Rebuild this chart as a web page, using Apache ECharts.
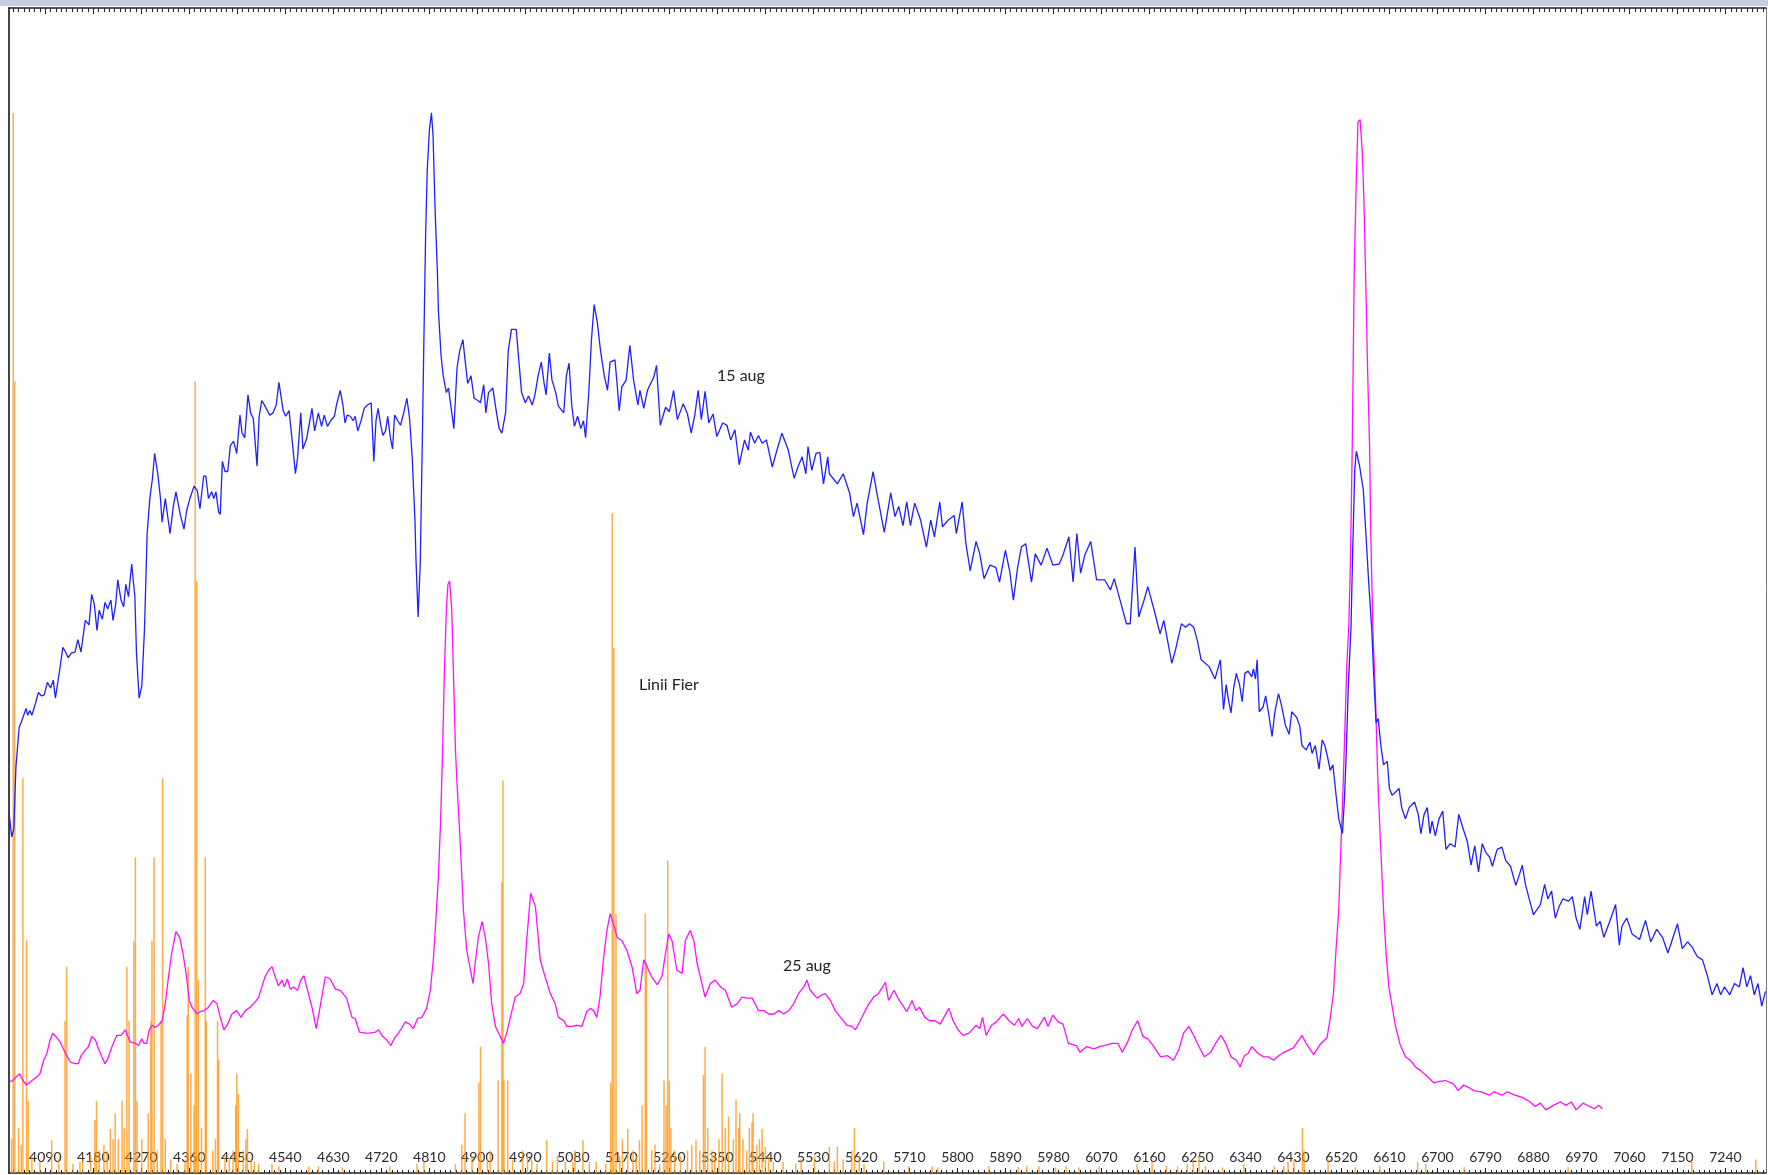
<!DOCTYPE html>
<html>
<head>
<meta charset="utf-8">
<script src="https://cdn.jsdelivr.net/npm/echarts/dist/echarts.min.js"></script>
<style>
html,body{margin:0;padding:0;background:#fff;}
#chart{width:1768px;height:1175px;}
</style>
</head>
<body>
<div id="chart"></div>
<script>
// X range (wavelength, Angstrom) and Y range (relative intensity)
const X_MIN = 4022, X_MAX = 7316, Y_MAX = 1033;

// Axis tick labels
const tickLabels = [4090,4180,4270,4360,4450,4540,4630,4720,4810,4900,4990,5080,5170,5260,5350,5440,5530,5620,5710,5800,5890,5980,6070,6160,6250,6340,6430,6520,6610,6700,6790,6880,6970,7060,7150,7240];

// 15 aug spectrum [wavelength, intensity]
const aug15 = [
[4022,320],[4027,298],[4031,305],[4035,360],[4041,395],[4046,401],[4054,412],[4057,406],[4061,410],[4065,406],[4072,417],[4077,426],[4083,423],[4088,424],[4094,435],[4100,430],[4105,437],[4109,421],[4117,446],[4123,466],[4128,462],[4133,457],[4139,461],[4146,462],[4151,473],[4157,462],[4165,490],[4172,486],[4177,513],[4182,504],[4187,481],[4191,499],[4197,491],[4202,506],[4207,500],[4213,508],[4217,490],[4222,504],[4226,526],[4232,508],[4237,502],[4241,522],[4246,511],[4252,540],[4258,511],[4261,461],[4266,421],[4271,432],[4276,482],[4281,567],[4286,598],[4291,616],[4295,638],[4301,620],[4306,598],[4309,577],[4315,598],[4321,577],[4324,567],[4330,591],[4335,604],[4343,584],[4350,571],[4355,587],[4361,598],[4369,609],[4375,605],[4380,589],[4387,618],[4391,618],[4396,598],[4402,604],[4406,598],[4410,604],[4415,586],[4418,584],[4422,631],[4427,622],[4432,622],[4437,645],[4443,649],[4449,638],[4455,672],[4459,656],[4464,652],[4470,690],[4475,674],[4480,669],[4487,627],[4491,671],[4496,685],[4502,680],[4511,672],[4517,674],[4523,681],[4528,701],[4536,676],[4541,671],[4547,676],[4553,649],[4559,620],[4563,634],[4569,674],[4573,642],[4580,651],[4590,678],[4595,658],[4599,667],[4602,674],[4608,662],[4613,672],[4619,662],[4625,667],[4632,671],[4636,681],[4643,694],[4648,681],[4652,665],[4656,672],[4662,671],[4667,667],[4671,671],[4676,658],[4682,667],[4688,678],[4694,681],[4701,683],[4706,631],[4710,667],[4714,678],[4719,663],[4723,654],[4728,658],[4732,671],[4737,652],[4741,642],[4745,672],[4751,667],[4756,663],[4762,674],[4768,687],[4773,669],[4778,634],[4783,580],[4785,544],[4789,493],[4793,540],[4797,652],[4800,743],[4803,830],[4806,888],[4810,924],[4814,940],[4817,920],[4821,852],[4825,801],[4827,765],[4832,725],[4836,707],[4842,692],[4846,696],[4851,678],[4856,660],[4862,714],[4867,729],[4873,739],[4877,721],[4882,700],[4888,707],[4894,687],[4901,685],[4906,683],[4912,699],[4916,674],[4921,692],[4929,696],[4936,674],[4941,660],[4946,656],[4953,674],[4958,729],[4964,748],[4973,748],[4977,725],[4983,692],[4990,683],[4996,689],[5003,681],[5008,690],[5014,707],[5020,719],[5025,701],[5029,690],[5035,727],[5040,703],[5047,692],[5052,680],[5062,674],[5067,707],[5072,718],[5077,681],[5082,662],[5088,671],[5094,660],[5099,667],[5103,652],[5109,692],[5114,739],[5119,770],[5125,754],[5131,729],[5138,707],[5144,694],[5149,719],[5158,721],[5162,700],[5166,676],
[5171,697],[5179,703],[5186,734],[5193,703],[5201,681],[5205,694],[5212,678],[5219,694],[5231,706],[5236,716],[5243,663],[5253,679],[5260,675],[5268,694],[5275,668],[5286,682],[5294,673],[5301,656],[5308,673],[5314,694],[5320,668],[5327,693],[5334,665],[5342,673],[5349,653],[5360,665],[5368,663],[5375,650],[5383,659],[5391,628],[5401,650],[5408,641],[5412,657],[5420,647],[5427,654],[5434,647],[5442,650],[5453,626],[5460,638],[5471,656],[5483,641],[5494,616],[5501,626],[5509,635],[5516,620],[5520,644],[5527,623],[5535,638],[5542,639],[5549,611],[5557,635],[5560,620],[5575,611],[5586,620],[5598,603],[5605,582],[5612,594],[5624,566],[5631,594],[5642,622],[5649,603],[5663,568],[5675,603],[5683,582],[5690,591],[5698,574],[5705,595],[5712,574],[5720,594],[5731,579],[5742,555],[5750,579],[5757,564],[5767,595],[5772,573],[5783,579],[5794,583],[5798,567],[5809,595],[5816,558],[5824,534],[5835,560],[5842,549],[5850,527],[5861,539],[5872,537],[5879,524],[5890,552],[5898,534],[5905,508],[5913,537],[5920,555],[5928,558],[5939,524],[5946,549],[5957,539],[5968,554],[5979,539],[5991,540],[5998,548],[6009,564],[6017,524],[6024,567],[6031,532],[6039,548],[6050,560],[6061,526],[6076,526],[6087,517],[6094,527],[6105,508],[6117,487],[6124,487],[6133,555],[6140,493],[6150,508],[6157,520],[6169,499],[6180,478],[6187,490],[6202,452],[6209,464],[6220,487],[6228,484],[6235,487],[6243,484],[6250,472],[6257,455],[6272,449],[6283,438],[6293,455],
[6299,411],[6304,433],[6308,420],[6313,408],[6318,430],[6323,443],[6329,433],[6334,418],[6339,443],[6345,445],[6352,440],[6355,447],[6359,438],[6362,455],[6366,409],[6373,413],[6378,423],[6383,409],[6390,387],[6395,408],[6402,425],[6408,414],[6415,397],[6422,389],[6427,409],[6436,404],[6442,396],[6446,379],[6454,375],[6461,382],[6465,372],[6471,379],[6478,358],[6484,384],[6489,379],[6494,369],[6499,357],[6504,362],[6510,335],[6515,314],[6522,301],[6526,335],[6529,372],[6533,433],[6538,484],[6541,549],[6545,623],[6548,640],[6554,627],[6561,606],[6566,566],[6571,525],[6577,481],[6581,437],[6585,399],[6589,403],[6594,379],[6599,362],[6606,365],[6610,341],[6615,335],[6622,338],[6628,341],[6633,324],[6640,314],[6647,324],[6657,329],[6664,318],[6669,301],[6675,318],[6681,324],[6686,301],[6690,312],[6696,299],[6703,314],[6710,321],[6716,287],[6724,292],[6733,289],[6740,318],[6747,307],[6756,294],[6763,273],[6770,290],[6777,267],[6784,292],[6791,284],[6798,280],[6803,272],[6812,287],[6821,289],[6828,277],[6837,272],[6847,255],[6854,265],[6859,273],[6865,256],[6872,243],[6880,229],[6886,233],[6893,238],[6901,256],[6907,243],[6914,250],[6921,226],[6928,236],[6935,243],[6946,241],[6953,245],[6960,226],[6967,216],[6976,245],[6981,229],[6988,250],[6998,219],[7005,223],[7012,209],[7023,223],[7034,238],[7041,202],[7046,219],[7055,226],[7065,212],[7079,207],[7090,224],[7100,205],[7111,216],[7122,209],[7132,195],[7139,205],[7150,221],[7159,199],[7169,205],[7178,200],[7187,192],[7197,189],[7206,175],[7215,158],[7224,168],[7231,158],[7238,165],[7248,158],[7257,168],[7266,165],[7273,182],[7280,165],[7287,175],[7294,158],[7301,168],[7308,148],[7315,161]
];

// 25 aug spectrum [wavelength, intensity]
const aug25 = [
[4023,81],[4029,82],[4035,85],[4042,88],[4048,82],[4055,78],[4065,82],[4074,85],[4080,88],[4087,100],[4093,106],[4099,118],[4104,124],[4110,121],[4118,116],[4124,110],[4130,104],[4138,98],[4146,97],[4152,97],[4157,104],[4165,109],[4171,112],[4177,121],[4184,118],[4190,110],[4196,103],[4202,97],[4207,101],[4215,112],[4224,122],[4232,122],[4240,127],[4244,122],[4250,116],[4259,115],[4265,113],[4271,119],[4275,115],[4280,115],[4285,127],[4290,131],[4296,129],[4302,131],[4309,135],[4315,150],[4321,174],[4327,195],[4335,214],[4342,209],[4348,195],[4354,177],[4360,153],[4365,147],[4374,141],[4380,143],[4388,144],[4396,147],[4405,153],[4412,150],[4418,138],[4425,127],[4432,132],[4440,141],[4449,144],[4457,138],[4465,144],[4474,147],[4484,152],[4490,156],[4496,165],[4502,174],[4509,180],[4515,183],[4519,177],[4527,166],[4534,171],[4538,165],[4544,172],[4549,163],[4555,165],[4563,162],[4569,171],[4575,175],[4580,165],[4590,147],[4598,128],[4604,144],[4615,174],[4624,172],[4634,163],[4643,162],[4655,155],[4665,138],[4671,137],[4679,125],[4690,124],[4699,124],[4709,125],[4715,127],[4721,122],[4730,118],[4738,113],[4744,119],[4752,124],[4759,129],[4765,134],[4773,132],[4780,128],[4788,137],[4796,138],[4805,146],
[4812,162],[4818,192],[4823,230],[4827,262],[4831,310],[4835,375],[4838,440],[4842,500],[4845,522],[4848,525],[4852,500],[4856,430],[4859,375],[4862,345],[4868,292],[4874,233],[4880,198],[4887,180],[4892,168],[4896,186],[4902,209],[4909,223],[4915,209],[4921,186],[4927,150],[4934,130],[4943,121],[4949,115],[4955,124],[4965,144],[4971,156],[4980,159],[4987,168],[4993,209],[5000,248],[5009,236],[5018,189],[5027,174],[5037,159],[5046,150],[5052,138],[5062,135],[5068,130],[5077,130],[5087,131],[5096,130],[5105,143],[5112,146],[5118,144],[5124,138],[5130,156],[5137,192],[5143,215],[5149,230],[5155,221],[5162,209],[5171,206],[5180,198],[5190,183],[5199,159],[5205,162],[5212,189],[5218,183],[5227,174],[5237,167],[5246,174],[5252,192],[5259,212],[5265,206],[5274,180],[5284,177],[5290,206],[5299,215],[5306,206],[5312,186],[5321,168],[5327,156],[5337,168],[5346,171],[5356,165],[5365,162],[5377,147],[5387,150],[5396,156],[5406,155],[5415,155],[5421,150],[5427,144],[5437,144],[5446,141],[5456,141],[5465,144],[5474,141],[5484,144],[5493,150],[5502,159],[5512,165],[5518,171],[5524,162],[5537,155],[5546,158],[5552,159],[5562,153],[5571,144],[5581,138],[5593,131],[5602,130],[5609,127],[5618,135],[5624,141],[5634,150],[5643,156],[5652,159],
[5665,169],[5671,153],[5681,162],[5691,153],[5697,149],[5705,143],[5715,153],[5722,144],[5729,147],[5739,138],[5748,135],[5758,135],[5768,132],[5777,140],[5784,146],[5792,135],[5801,127],[5811,122],[5822,124],[5835,131],[5842,128],[5847,138],[5854,122],[5864,131],[5873,134],[5886,141],[5897,135],[5907,131],[5915,137],[5921,130],[5931,137],[5941,130],[5950,128],[5963,138],[5970,130],[5979,140],[5989,134],[5998,132],[6008,115],[6023,113],[6030,107],[6042,112],[6056,110],[6066,112],[6075,113],[6090,115],[6101,115],[6109,107],[6119,116],[6128,127],[6138,135],[6148,121],[6157,119],[6167,113],[6181,103],[6194,104],[6205,100],[6215,109],[6224,124],[6234,130],[6244,121],[6253,112],[6263,103],[6275,107],[6284,115],[6294,122],[6303,115],[6313,103],[6323,100],[6330,94],[6338,104],[6345,106],[6352,112],[6364,106],[6374,103],[6383,103],[6393,100],[6400,103],[6412,107],[6430,111],[6446,122],[6455,114],[6468,105],[6480,114],[6493,120],[6499,137],[6505,159],[6510,199],[6515,233],[6519,289],[6523,340],[6527,402],[6530,448],[6534,487],[6537,544],[6540,634],[6542,714],[6544,799],[6548,883],[6551,932],[6555,934],[6559,906],[6562,866],[6566,782],[6569,714],[6573,640],[6575,567],[6579,482],[6584,419],[6588,352],[6593,295],[6599,233],[6604,193],[6609,165],[6615,148],[6621,131],[6630,114],[6640,103],[6649,100],[6659,94],[6668,91],[6680,86],[6693,80],[6701,81],[6715,82],[6730,79],[6739,73],[6749,78],[6758,76],[6768,73],[6782,72],[6797,69],[6806,72],[6821,69],[6831,72],[6845,69],[6859,67],[6874,63],[6883,59],[6893,62],[6903,56],[6917,60],[6931,63],[6941,60],[6951,63],[6960,56],[6973,62],[6985,59],[6994,57],[7002,60],[7009,57]
];

// Iron reference lines ("Linii Fier") [wavelength, relative strength]
const feLines = [
[4027,30],[4030,940],[4033,702],[4040,40],[4045,25],[4048,350],[4055,206],[4058,64],[4065,15],[4080,10],[4102,29],[4115,12],[4127,135],[4130,183],[4142,8],[4155,10],[4160,12],[4175,15],[4183,47],[4186,64],[4191,20],[4200,25],[4206,20],[4212,39],[4217,30],[4221,53],[4227,30],[4234,64],[4238,40],[4243,183],[4247,135],[4256,206],[4259,280],[4262,64],[4271,30],[4283,53],[4288,135],[4290,206],[4294,280],[4300,20],[4307,135],[4310,350],[4315,30],[4325,12],[4337,8],[4352,10],[4356,140],[4358,183],[4363,88],[4369,60],[4371,702],[4374,525],[4377,171],[4383,40],[4390,280],[4392,135],[4404,20],[4409,30],[4413,135],[4415,100],[4427,15],[4435,12],[4442,20],[4447,60],[4449,88],[4452,70],[4461,20],[4466,30],[4469,39],[4476,12],[4482,10],[4490,8],[4515,8],[4528,6],[4584,6],[4602,6],[4647,5],[4736,6],[4787,8],[4800,10],[4859,8],[4871,25],[4877,53],[4890,15],[4903,80],[4906,112],[4919,12],[4924,20],[4939,82],[4946,258],[4948,348],[4950,82],[4957,82],[4966,12],[4985,20],[4994,15],[5002,12],[5012,8],[5030,29],[5041,10],[5050,15],[5065,10],[5079,10],[5083,20],[5098,29],[5110,10],[5123,10],[5141,8],[5150,80],[5153,585],[5156,465],[5160,230],[5167,15],[5172,30],[5182,39],[5192,20],[5198,15],[5204,29],[5209,60],[5215,230],[5217,186],[5227,20],[5233,25],[5242,8],[5250,82],[5254,60],[5257,277],[5260,82],[5263,40],[5270,20],[5281,15],[5294,20],[5302,25],[5310,29],[5317,20],[5324,87],[5327,112],[5332,40],[5340,20],[5345,15],[5353,30],[5359,88],[5365,40],[5371,50],[5380,30],[5385,65],[5390,40],[5392,53],[5398,30],[5405,20],[5410,40],[5415,45],[5417,53],[5424,25],[5429,30],[5434,39],[5440,23],[5446,15],[5455,10],[5473,10],[5497,8],[5507,12],[5532,15],[5560,23],[5569,10],[5575,23],[5586,12],[5602,20],[5607,40],[5616,15],[5625,8],[5662,10],[5709,6],[5753,6],[5763,5],[5859,6],[5914,5],[5930,6],[5953,6],[5984,5],[6004,6],[6028,5],[6066,6],[6137,8],[6165,10],[6192,6],[6213,6],[6231,8],[6242,12],[6253,15],[6265,6],[6297,5],[6337,8],[6394,6],[6412,6],[6420,10],[6431,12],[6447,40],[6450,20],[6495,12],[6546,5],[6592,6],[6663,10],[6678,8],[6750,5],[6945,5],[7177,10],[7297,12]
];

// Minor ticks every 10 A (axis structure)
const minorTicks = [];
for (let v = 4030; v <= 7310; v += 10) minorTicks.push(v);

const chart = echarts.init(document.getElementById('chart'), null, {renderer: 'canvas'});

function xAx(pos, ticks, len, withLabels, showLine) {
  return {
    type: 'value', position: pos, min: X_MIN, max: X_MAX,
    splitLine: {show: false},
    axisLine: {show: showLine, onZero: false, lineStyle: {color: '#222', width: 1.5}},
    axisTick: {show: true, inside: true, length: len, customValues: ticks, lineStyle: {color: '#222', width: 1}},
    axisLabel: withLabels ? {
      show: true, inside: true, margin: 9, customValues: tickLabels,
      formatter: function (v) { return String(v); },
      color: '#2a2a2a', fontFamily: 'Lato', fontSize: 14
    } : {show: false}
  };
}

const option = {
  animation: false,
  backgroundColor: '#ffffff',
  grid: {left: 9, right: 2, top: 8, bottom: 2, containLabel: false},
  xAxis: [
    xAx('bottom', tickLabels, 5, true, true),
    xAx('bottom', minorTicks, 3, false, false),
    xAx('top', tickLabels, 6, false, true),
    xAx('top', minorTicks, 4, false, false)
  ],
  yAxis: [
    {type: 'value', min: 0, max: Y_MAX, position: 'left',
     axisLine: {show: true, lineStyle: {color: '#444', width: 2}},
     axisTick: {show: false}, axisLabel: {show: false}, splitLine: {show: false}},
    {type: 'value', min: 0, max: Y_MAX, position: 'right',
     axisLine: {show: true, lineStyle: {color: '#777', width: 1}},
     axisTick: {show: false}, axisLabel: {show: false}, splitLine: {show: false}}
  ],
  graphic: [
    {type: 'rect', left: 0, top: 0, shape: {width: 1768, height: 6}, style: {fill: '#c5d0de'}, z: 100},
    {type: 'text', left: 717, top: 368, style: {text: '15 aug', fill: '#222', font: '16px Lato'}, z: 100},
    {type: 'text', left: 639, top: 677, style: {text: 'Linii Fier', fill: '#222', font: '16px Lato'}, z: 100},
    {type: 'text', left: 783, top: 958, style: {text: '25 aug', fill: '#222', font: '16px Lato'}, z: 100}
  ],
  series: [
    {
      name: 'Linii Fier', type: 'bar', xAxisIndex: 0, yAxisIndex: 0,
      data: feLines, barWidth: 1.5, barMinHeight: 0,
      itemStyle: {color: 'rgba(255,140,0,0.72)'},
      silent: true, z: 1
    },
    {
      name: '25 aug', type: 'line', xAxisIndex: 0, yAxisIndex: 0,
      data: aug25, showSymbol: false, smooth: false,
      lineStyle: {color: '#ff10ff', width: 1.3}, silent: true, z: 2
    },
    {
      name: '15 aug', type: 'line', xAxisIndex: 0, yAxisIndex: 0,
      data: aug15, showSymbol: false, smooth: false,
      lineStyle: {color: '#1f1fff', width: 1.3}, silent: true, z: 3
    }
  ]
};
chart.setOption(option);
</script>
</body>
</html>
